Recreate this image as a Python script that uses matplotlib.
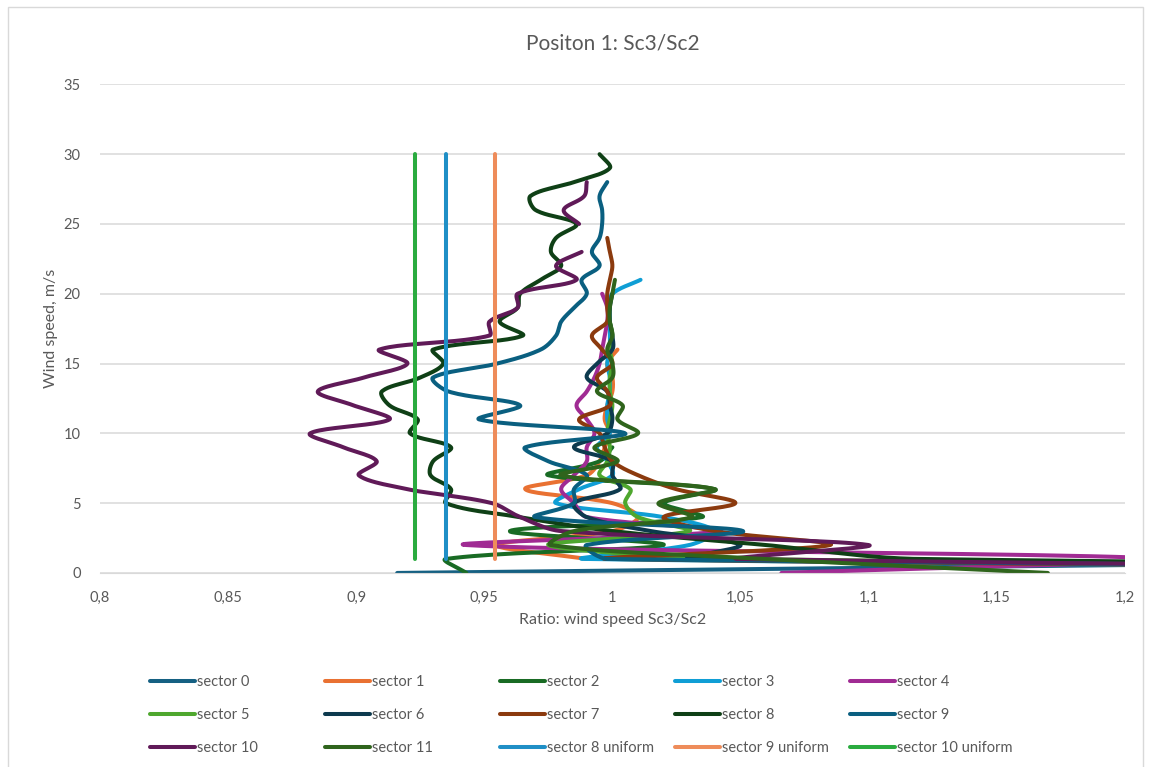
import matplotlib.pyplot as plt
from matplotlib.patches import Rectangle
from matplotlib.ticker import FuncFormatter
import numpy as np

nan = np.nan

# ratio Sc3/Sc2 per wind speed bin (wind speed 0, 1, 2, ... m/s)
sector_0 = [0.916, 1.42]
sector_1 = [nan, 0.990, 0.955, 1.000, 1.010, 1.000, 0.966, 0.990, 0.995, 0.997,
            0.999, 0.997, 0.998, 1.000, 1.000, 0.998, 1.002]
sector_2 = [0.943, 0.935, 1.020, 0.960, 1.035, 1.020, 1.040, 0.975, 0.995, 1.000]
sector_3 = [1.80, 0.990, 1.030, 1.040, 1.020, 0.978, 0.987, 1.000, 0.998, 0.994,
            0.999, 0.998, 0.998, 0.999, 0.999, 0.998, 0.999, 0.999, 0.999, 0.999,
            1.000, 1.011]
sector_4 = [1.066, 1.215, 0.943, 1.042, 0.990, 0.985, 0.980, 0.985, 0.990, 0.990,
            0.993, 0.990, 0.986, 0.990, 0.993, 0.995, 0.996, 0.997, 0.998, 0.998,
            0.996]
sector_5 = [1.80, 1.050, 0.975, 1.030, 1.010, 1.005, 1.007, 0.995, 0.998, 0.999,
            0.998, 0.999, 1.000, 0.999, 0.999, 1.000, 0.999, 1.000, 0.999]
sector_6 = [1.80, 1.030, 1.050, 1.015, 0.990, 0.985, 1.003, 1.000, 1.000, 0.985,
            0.998, 1.000, 0.999, 0.998, 0.990, 0.994, 1.000, 1.000, 0.999, 0.999,
            1.000]
sector_7 = [1.80, 1.000, 1.085, 1.040, 1.020, 1.048, 1.025, 1.010, 1.000, 0.997,
            0.995, 0.987, 0.999, 0.998, 0.994, 1.000, 0.996, 0.992, 0.998, 0.998,
            0.998, 0.999, 1.000, 0.999, 0.998]
sector_8 = [1.90, 1.120, 1.060, 1.000, 0.964, 0.935, 0.937, 0.929, 0.930, 0.937,
            0.921, 0.924, 0.913, 0.910, 0.925, 0.934, 0.930, 0.965, 0.956, 0.963,
            0.964, 0.972, 0.980, 0.976, 0.978, 0.986, 0.970, 0.968, 0.985, 0.999,
            0.995]
sector_9 = [1.90, 0.998, 0.990, 1.051, 0.970, 0.985, 0.985, 0.990, 0.975, 0.966,
            1.005, 0.948, 0.964, 0.936, 0.930, 0.955, 0.972, 0.978, 0.980, 0.985,
            0.990, 0.988, 0.995, 0.992, 0.995, 0.996, 0.996, 0.995, 0.998]
sector_10 = [1.80, 1.050, 1.100, 0.980, 0.964, 0.953, 0.920, 0.901, 0.908, 0.895,
             0.882, 0.913, 0.899, 0.885, 0.903, 0.920, 0.909, 0.952, 0.952, 0.963,
             0.963, 0.986, 0.978, 0.988, nan, 0.987, 0.981, 0.989, 0.990]
sector_11 = [1.17, 1.060, 0.976, 0.985, 1.031, 1.018, 1.040, 0.980, 1.002, 0.993,
             1.010, 1.002, 1.004, 0.994, 1.000, 1.000, 0.998, 1.000, 0.999, 0.999,
             1.000, 1.001]
uniform_ws = [1, 30]
sector_8_uniform = [0.935, 0.935]
sector_9_uniform = [0.954, 0.954]
sector_10_uniform = [0.923, 0.923]

series = [
    ("sector 0", sector_0, "#156082"),
    ("sector 1", sector_1, "#E97132"),
    ("sector 2", sector_2, "#196B24"),
    ("sector 3", sector_3, "#0F9ED5"),
    ("sector 4", sector_4, "#A02B93"),
    ("sector 5", sector_5, "#4EA72E"),
    ("sector 6", sector_6, "#0D3A4E"),
    ("sector 7", sector_7, "#8B3A0E"),
    ("sector 8", sector_8, "#0F4016"),
    ("sector 9", sector_9, "#0A5F80"),
    ("sector 10", sector_10, "#601A58"),
    ("sector 11", sector_11, "#2F641C"),
]
uniform = [
    ("sector 8 uniform", sector_8_uniform, "#1F8FC6"),
    ("sector 9 uniform", sector_9_uniform, "#EE8C5A"),
    ("sector 10 uniform", sector_10_uniform, "#2AAB3F"),
]

# screen scale (px per data unit) so the smoothing works like on screen
SX = 1025 / 0.4
SY = 489 / 35


def smooth(xs, ys, n=24):
    # smoothed line through the points, tangents weighted by segment length
    p = np.column_stack([np.asarray(xs) * SX, np.asarray(ys) * SY])
    if len(p) < 3:
        return p[:, 0] / SX, p[:, 1] / SY
    out = [p[:1]]
    t = np.linspace(0, 1, n)[1:, None]
    for i in range(len(p) - 1):
        p0 = p[max(i - 1, 0)]
        p1 = p[i]
        p2 = p[i + 1]
        p3 = p[min(i + 2, len(p) - 1)]
        d01 = np.hypot(*(p1 - p0))
        d12 = np.hypot(*(p2 - p1))
        d23 = np.hypot(*(p3 - p2))
        c1 = p1 + (p2 - p0) * d12 / (d01 + d12) / 3 if d01 > 0 else p1 + (p2 - p1) / 3
        c2 = p2 - (p3 - p1) * d12 / (d12 + d23) / 3 if d23 > 0 else p2 - (p2 - p1) / 3
        seg = ((1 - t) ** 3 * p1 + 3 * (1 - t) ** 2 * t * c1
               + 3 * (1 - t) * t ** 2 * c2 + t ** 3 * p2)
        out.append(seg)
    out = np.vstack(out)
    return out[:, 0] / SX, out[:, 1] / SY


plt.rcParams['font.family'] = ['Lato', 'DejaVu Sans']
grey = "#595959"

fig = plt.figure(figsize=(11.5, 7.67), dpi=100)
ax = fig.add_axes([0.087, 0.253, 0.891, 0.637])

handles = []
for name, vals, col in series:
    vals = np.array(vals, dtype=float)
    ws = np.arange(len(vals))
    ok = ~np.isnan(vals)
    # split at gaps
    idx = np.where(ok)[0]
    parts = np.split(idx, np.where(np.diff(idx) > 1)[0] + 1)
    h = None
    for part in parts:
        sx, sy = smooth(vals[part], ws[part])
        h, = ax.plot(sx, sy, color=col, lw=2.9, solid_capstyle='round',
                     solid_joinstyle='round', label=name)
    handles.append(h)

for name, vals, col in uniform:
    h, = ax.plot(vals, uniform_ws, color=col, lw=2.9, solid_capstyle='round',
                 label=name)
    handles.append(h)

ax.set_xlim(0.8, 1.2)
ax.set_ylim(0, 35)
ax.set_xticks(np.arange(0.8, 1.2001, 0.05))
ax.set_yticks(np.arange(0, 36, 5))


def comma(v, pos):
    s = ("%.2f" % v).rstrip("0").rstrip(".")
    return s.replace(".", ",")


ax.xaxis.set_major_formatter(FuncFormatter(comma))
ax.grid(axis='y', color="#D9D9D9", lw=1.1)
ax.set_axisbelow(True)
for s in ["top", "right", "left"]:
    ax.spines[s].set_visible(False)
ax.spines["bottom"].set_color("#D9D9D9")
ax.tick_params(length=0, colors=grey, labelsize=10.5, pad=13)
ax.tick_params(axis='y', pad=14)

ax.set_title("Positon 1: Sc3/Sc2", color=grey, fontsize=15, pad=25)
ax.set_xlabel("Ratio: wind speed Sc3/Sc2", color=grey, fontsize=11.5, labelpad=6)
ax.set_ylabel("Wind speed, m/s", color=grey, fontsize=11.5, labelpad=4)

# legend: 5 equal columns, filled row by row like excel
for c in range(5):
    hs = [handles[r * 5 + c] for r in range(3)]
    leg = fig.legend(hs, [h.get_label() for h in hs], loc='upper left',
                     bbox_to_anchor=((150 + 175 * c) / 1150, 1 - 675 / 767),
                     frameon=False, fontsize=10.5, labelcolor=grey,
                     handlelength=3.1, handletextpad=0.15, labelspacing=1.3,
                     borderpad=0, borderaxespad=0)

fig.patches.append(Rectangle((8 / 1150, -0.01), 1135 / 1150, 1 - 7 / 767 + 0.01,
                             transform=fig.transFigure, fill=False,
                             edgecolor="#D9D9D9", lw=1))

fig.savefig("out.png", dpi=100)
